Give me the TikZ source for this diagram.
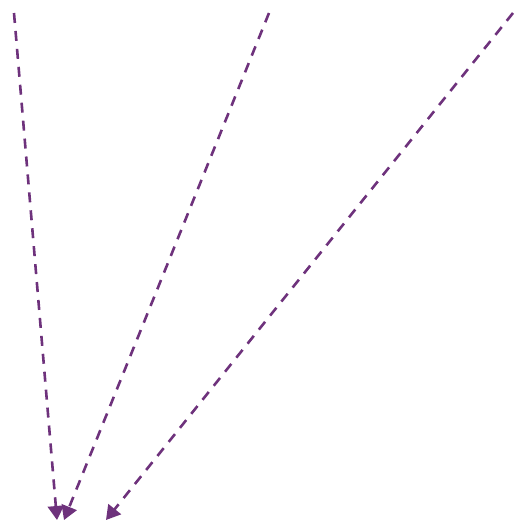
\documentclass[tikz,border=0pt]{standalone}
\usepackage{tikz}
\usetikzlibrary{arrows.meta}
\definecolor{grape}{RGB}{110,50,124}

\begin{document}
\begin{tikzpicture}[x=1pt,y=-1pt,>={Triangle[length=14pt,width=16pt]},
    flow/.style={->,grape,line width=2.6pt,dash pattern=on 10pt off 8pt}]
    \useasboundingbox (0,0) rectangle (518,520);
    \coordinate (srcA) at (14,13);
    \coordinate (srcB) at (269,13);
    \coordinate (srcC) at (513,13);
    \coordinate (tgtA) at (57,520);
    \coordinate (tgtB) at (64,520);
    \coordinate (tgtC) at (106,520);
    \draw[flow] (srcA)--(tgtA);
    \draw[flow] (srcB)--(tgtB);
    \draw[flow] (srcC)--(tgtC);
  \end{tikzpicture}
\end{document}
